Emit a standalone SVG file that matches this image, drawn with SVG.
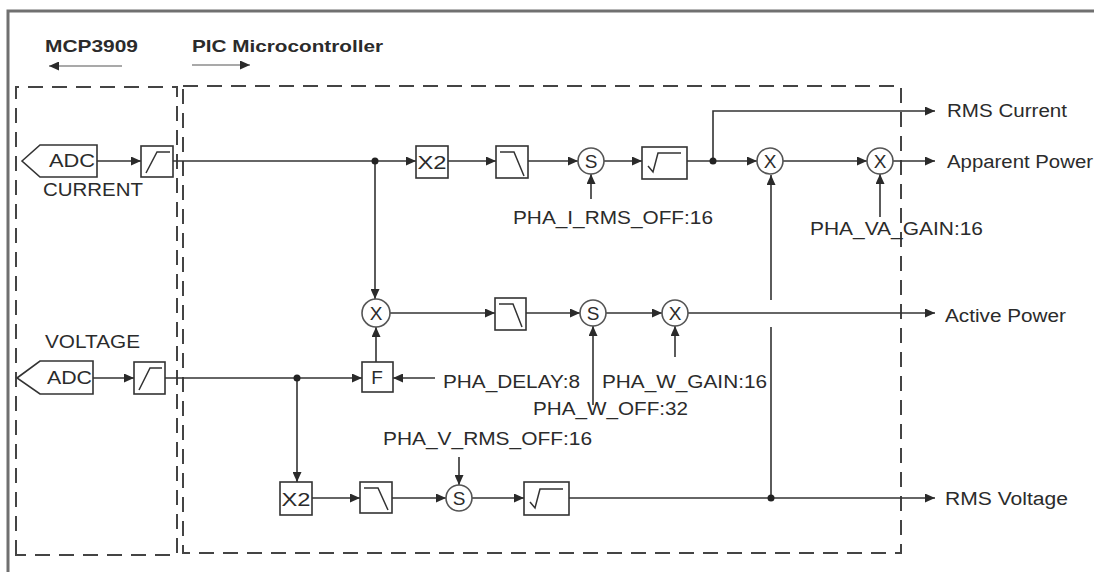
<svg xmlns="http://www.w3.org/2000/svg" width="1094" height="572" viewBox="0 0 1094 572">
<defs>
<marker id="ah" markerUnits="userSpaceOnUse" markerWidth="11" markerHeight="9" refX="10" refY="4.5" orient="auto">
<path d="M0,0 L10,4.5 L0,9 z" fill="#2a2a2a"/>
</marker>
<style>
.frame{fill:none;stroke:#707070;stroke-width:3}
.dash{fill:none;stroke:#444;stroke-width:2;stroke-dasharray:15 9}
.blk{fill:#fff;stroke:#333;stroke-width:1.6}
.sym{fill:none;stroke:#333;stroke-width:1.5}
.circ{fill:#fff;stroke:#555;stroke-width:1.6}
.w{fill:none;stroke:#333;stroke-width:1.6}
.wa{fill:none;stroke:#333;stroke-width:1.6;marker-end:url(#ah)}
.dot{fill:#222}
text{font-family:"Liberation Sans",Arial,sans-serif;fill:#2b2b2b}
.t{font-size:18px}
.h{font-size:17px;font-weight:bold}
.c{font-size:19px;text-anchor:middle}
</style>
</defs>
<rect width="1094" height="572" fill="#fff"/>
<path class="frame" d="M8,572 V11 H1094"/>
<g id="titles">
<text class="h" x="45" y="52" textLength="93" lengthAdjust="spacingAndGlyphs">MCP3909</text>
<text class="h" x="192" y="52" textLength="191" lengthAdjust="spacingAndGlyphs">PIC Microcontroller</text>
<path class="wa" d="M122,66 H49" style="stroke:#555;stroke-width:1.2"/>
<path class="wa" d="M192,65 H250" style="stroke:#555;stroke-width:1.2"/>
</g>
<g id="mcp3909-boundary"><path class="dash" d="M16,555 V87 H177 V555 Z"/></g>
<g id="pic-boundary"><path class="dash" d="M183,86 H901 V553 H183 Z"/></g>
<g id="connectors">
<path class="wa" d="M97,161 H141"/>
<path class="wa" d="M173,161 H416"/>
<path class="wa" d="M448,161 H496"/>
<path class="wa" d="M528,161 H578"/>
<path class="wa" d="M604,161 H642"/>
<path class="wa" d="M687,161 H757"/>
<path class="wa" d="M713,161 V111 H935"/>
<path class="wa" d="M783,161 H867"/>
<path class="wa" d="M893,161 H935"/>
<path class="wa" d="M591,199 V174"/>
<path class="wa" d="M880,217 V174"/>
<path class="wa" d="M375,161 V299"/>
<path class="wa" d="M376,362 V327"/>
<path class="wa" d="M390,313 H495"/>
<path class="wa" d="M526,313 H580"/>
<path class="wa" d="M606,313 H662"/>
<path class="wa" d="M688,313 H935"/>
<path class="wa" d="M593,405 V326"/>
<path class="wa" d="M675,357 V326"/>
<path class="wa" d="M435,378 H393"/>
<path class="wa" d="M93,378 H134"/>
<path class="wa" d="M165,378 H362"/>
<path class="wa" d="M297,378 V482"/>
<path class="wa" d="M312,498 H360"/>
<path class="wa" d="M392,498 H446"/>
<path class="wa" d="M472,498 H524"/>
<path class="wa" d="M569,498 H935"/>
<path class="w" d="M771,498 V327"/>
<path class="wa" d="M771,300 V175"/>
<path class="wa" d="M459,457 V485"/>
<circle class="dot" cx="375" cy="161" r="3.5"/>
<circle class="dot" cx="713" cy="161" r="3.5"/>
<circle class="dot" cx="297" cy="378" r="3.5"/>
<circle class="dot" cx="771" cy="498" r="3.5"/>
</g>
<g id="adc-current">
<path class="blk" d="M22,161 L40,145 H97 V177 H40 Z"/>
<text class="t" x="49" y="167" textLength="46" lengthAdjust="spacingAndGlyphs">ADC</text>
<text class="t" x="43" y="196" textLength="100" lengthAdjust="spacingAndGlyphs">CURRENT</text>
</g>
<g id="hpf-current">
<rect class="blk" x="141" y="146" width="32" height="31"/>
<path class="sym" d="M146,173 L157,152 H170"/>
</g>
<g id="sq-current">
<rect class="blk" x="416" y="146" width="32" height="32"/>
<text class="c" x="432" y="169" textLength="29" lengthAdjust="spacingAndGlyphs">X2</text>
</g>
<g id="lpf-current">
<rect class="blk" x="496" y="146" width="32" height="32"/>
<path class="sym" d="M500,152 H514 L524,176"/>
</g>
<g id="sum-current">
<circle class="circ" cx="591" cy="161" r="13"/>
<text class="c" x="591" y="168">S</text>
</g>
<g id="sqrt-current">
<rect class="blk" x="642" y="147" width="45" height="32"/>
<path class="sym" d="M648,166 L653,172 L658,153 H681"/>
</g>
<g id="mul-va">
<circle class="circ" cx="770" cy="161" r="13"/>
<text class="c" x="770" y="168">X</text>
</g>
<g id="mul-vagain">
<circle class="circ" cx="880" cy="161" r="13"/>
<text class="c" x="880" y="168">X</text>
</g>
<g id="label-i-rms-off"><text class="t" x="513" y="224" textLength="200" lengthAdjust="spacingAndGlyphs">PHA_I_RMS_OFF:16</text></g>
<g id="label-va-gain"><text class="t" x="810" y="235" textLength="173" lengthAdjust="spacingAndGlyphs">PHA_VA_GAIN:16</text></g>
<g id="out-rms-current"><text class="t" x="947" y="117" textLength="120" lengthAdjust="spacingAndGlyphs">RMS Current</text></g>
<g id="out-apparent-power"><text class="t" x="947" y="168" textLength="146" lengthAdjust="spacingAndGlyphs">Apparent Power</text></g>
<g id="mul-active">
<circle class="circ" cx="376" cy="313" r="14"/>
<text class="c" x="376" y="320">X</text>
</g>
<g id="lpf-active">
<rect class="blk" x="495" y="298" width="31" height="32"/>
<path class="sym" d="M499,304 H513 L522,327"/>
</g>
<g id="sum-active">
<circle class="circ" cx="593" cy="313" r="13"/>
<text class="c" x="593" y="320">S</text>
</g>
<g id="mul-wgain">
<circle class="circ" cx="675" cy="313" r="13"/>
<text class="c" x="675" y="320">X</text>
</g>
<g id="out-active-power"><text class="t" x="945" y="322" textLength="121" lengthAdjust="spacingAndGlyphs">Active Power</text></g>
<g id="delay">
<rect class="blk" x="362" y="362" width="31" height="30"/>
<text class="c" x="377" y="384">F</text>
</g>
<g id="label-delay"><text class="t" x="443" y="388" textLength="137" lengthAdjust="spacingAndGlyphs">PHA_DELAY:8</text></g>
<g id="label-w-gain"><text class="t" x="602" y="388" textLength="165" lengthAdjust="spacingAndGlyphs">PHA_W_GAIN:16</text></g>
<g id="label-w-off"><text class="t" x="533" y="415" textLength="155" lengthAdjust="spacingAndGlyphs">PHA_W_OFF:32</text></g>
<g id="adc-voltage">
<path class="blk" d="M17,378 L40,361 H93 V394 H40 Z"/>
<text class="t" x="47" y="384" textLength="45" lengthAdjust="spacingAndGlyphs">ADC</text>
<text class="t" x="45" y="348" textLength="95" lengthAdjust="spacingAndGlyphs">VOLTAGE</text>
</g>
<g id="hpf-voltage">
<rect class="blk" x="134" y="362" width="31" height="32"/>
<path class="sym" d="M139,390 L150,368 H162"/>
</g>
<g id="sq-voltage">
<rect class="blk" x="280" y="482" width="32" height="33"/>
<text class="c" x="296" y="506" textLength="29" lengthAdjust="spacingAndGlyphs">X2</text>
</g>
<g id="lpf-voltage">
<rect class="blk" x="360" y="482" width="32" height="31"/>
<path class="sym" d="M364,488 H378 L388,510"/>
</g>
<g id="sum-voltage">
<circle class="circ" cx="459" cy="498" r="13"/>
<text class="c" x="459" y="505">S</text>
</g>
<g id="label-v-rms-off"><text class="t" x="383" y="445" textLength="209" lengthAdjust="spacingAndGlyphs">PHA_V_RMS_OFF:16</text></g>
<g id="sqrt-voltage">
<rect class="blk" x="524" y="482" width="45" height="33"/>
<path class="sym" d="M530,502 L535,508 L540,489 H563"/>
</g>
<g id="out-rms-voltage"><text class="t" x="945" y="505" textLength="123" lengthAdjust="spacingAndGlyphs">RMS Voltage</text></g>
</svg>
